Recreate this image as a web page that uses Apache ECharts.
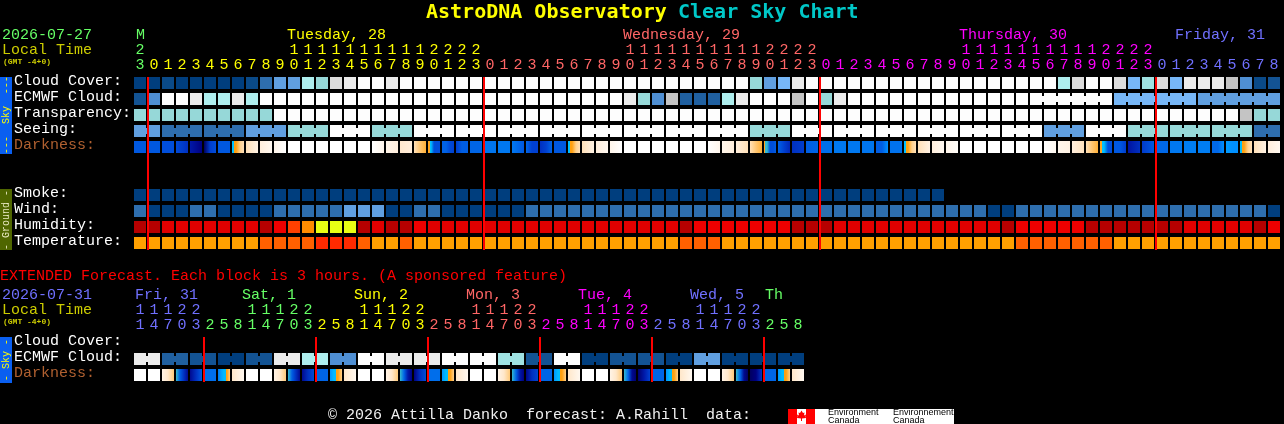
<!DOCTYPE html>
<html><head><meta charset="utf-8">
<style>html,body{margin:0;padding:0;background:#000;overflow:hidden}#c{width:1284px;height:424px}</style>
<script src="https://cdn.jsdelivr.net/npm/echarts@6/dist/echarts.min.js"></script>
</head><body><div id="c"></div>
<script>
// ---------- values ----------
const hoursMain=[23,0,1,2,3,4,5,6,7,8,9,10,11,12,13,14,15,16,17,18,19,20,21,22,23,0,1,2,3,4,5,6,7,8,9,10,11,12,13,14,15,16,17,18,19,20,21,22,23,0,1,2,3,4,5,6,7,8,9,10,11,12,13,14,15,16,17,18,19,20,21,22,23,0,1,2,3,4,5,6,7,8];
const hoursExt=[11,14,17,20,23,2,5,8,11,14,17,20,23,2,5,8,11,14,17,20,23,2,5,8,11,14,17,20,23,2,5,8,11,14,17,20,23,2,5,8,11,14,17,20,23,2,5,8];
const dayLabelsMain=[[0,'M'],[11,'Tuesday, 28'],[35,'Wednesday, 29'],[59,'Thursday, 30'],[74,'Friday, 31']];
const dayLabelsExt=[[0,'Fri, 31'],[8,'Sat, 1'],[16,'Sun, 2'],[24,'Mon, 3'],[32,'Tue, 4'],[40,'Wed, 5'],[45,'Th']];
const rowNamesMain=['Cloud Cover:','ECMWF Cloud:','Transparency:','Seeing:','Darkness:','','','Smoke:','Wind:','Humidity:','Temperature:'];
const rowNamesExt=['Cloud Cover:','ECMWF Cloud:','Darkness:'];

const cloudCover=[100,100,95,100,100,100,100,100,95,80,60,60,30,40,15,10,0,0,10,0,
0,0,0,0,0,0,0,0,0,0,0,0,0,0,0,0,0,0,0,0,0,0,0,0,40,60,50,10,0,0,
0,0,0,0,0,0,0,0,0,0,0,0,0,0,0,0,30,15,0,0,15,50,35,15,50,10,10,10,20,70,95,90];
const ecmwfCloud=[90,70,0,0,10,30,30,10,30,0,0,0,0,0,0,0,0,0,0,0,
0,0,0,0,0,0,0,0,0,0,0,0,0,0,0,10,40,70,20,85,85,85,30,10,0,0,0,20,0,40,
10,0,0,0,0,0,0,0,0,0,0,0,0,0,0,0,0,0,0,0,50,50,50,50,50,50,60,60,60,60,60,60];
const ecmwfBlocks=[1,1,1,1,1,1,1,1,1,1,1,1,1,1,1,1,1,1,1,1,1,1,1,1,1,1,1,1,1,1,1,1,1,1,1,1,1,1,1,1,1,1,1,1,1,1,1,1,1,1,1,1,1,1,1,1,1,1,1,1,1,1,1,1,6,6,6];
const transparency=[40,40,40,40,40,40,40,40,40,40,0,0,0,0,0,0,0,0,0,0,
0,0,0,0,0,0,0,0,0,0,0,0,0,0,0,0,0,0,0,0,0,0,0,0,0,0,0,0,0,0,
0,0,0,0,0,0,0,0,0,0,0,0,0,0,0,0,0,0,0,0,0,0,0,0,0,0,0,0,0,20,40,40];
const seeing=[60,60,80,80,80,80,80,80,60,60,60,40,40,40,0,0,0,40,40,40,
0,0,0,0,0,0,0,0,0,0,0,0,0,0,0,0,0,0,0,0,0,0,0,0,40,40,40,0,0,0,
0,0,0,0,0,0,0,0,0,0,0,0,0,0,0,60,60,60,0,0,0,40,40,40,40,40,40,40,40,40,80,80];
const seeingBlocks=[2,3,3,3,3,3,3,3,3,3,3,3,3,3,3,3,3,3,3,3,3,3,3,3,3,3,3,2];
const smoke=[100,100,100,100,100,100,100,100,100,100,100,100,100,100,100,100,100,100,100,100,100,100,100,100,100,100,100,100,100,100,100,100,100,100,100,100,100,100,100,100,100,100,100,100,100,100,100,100,100,100,100,100,100,100,100,100,100,100];
const wind=[80,100,100,100,80,80,100,100,100,100,80,80,80,80,80,60,60,60,100,100,80,80,100,100,100,100,100,100,80,80,
80,80,80,80,80,80,80,80,80,80,80,80,80,80,80,80,80,80,80,80,80,80,80,80,80,80,80,80,80,80,80,100,100,
80,80,80,80,80,80,80,80,80,80,80,80,80,80,80,80,80,80,100];
const humidity=[95,95,90,90,90,90,90,90,90,95,85,70,60,50,50,50,95,90,95,95,85,90,90,90,90,90,90,90,90,90,
90,90,90,90,90,90,90,90,90,95,85,85,85,85,85,85,85,95,95,95,90,90,90,90,90,90,90,90,90,90,90,90,95,
85,85,85,85,85,95,95,95,95,95,95,95,90,90,90,90,90,95,85];
const temperature=[24,24,24,24,24,24,24,24,24,28,28,28,28,32,32,32,28,24,24,28,24,24,24,24,24,24,24,24,24,24,
24,24,24,24,24,24,24,24,24,28,28,28,24,24,24,24,24,24,24,24,24,24,24,24,24,24,24,24,24,24,24,24,24,
28,28,28,28,28,28,28,24,24,24,24,24,24,24,24,24,24,24,24];
// limiting magnitude sampled across each column
const darkness=[[4],[4],[4.2],[4.3,5],[5.5,6],[6.5,4.6,4.2],[4],[1.5,1,-0.5,-1],[-1,-2.4],[-2,-3],[-2.7,-4],[-4],[-4],[-4],[-4],[-4],[-4],[-4,-2.7],[-2.6,-2],[-1.6,-2],[-1,-0.2,0.5],[0.8,1.5,4.2,4.2,4.2],
[3.7,3.7,4.3,4.5],[4.6,3.8,3.8],[3.6],[3.1],[3],[3,4],[3.5,4.5,4.5],[5,4.5,3.6],[4],[1.5,1,-0.5,-1],[-1,-2.4],[-2,-3],[-2.7,-4],[-4],[-4],[-4],[-4],[-4],[-4],[-4,-2.8],[-2.7,-2],[-2,-1],[-1,-0.2,0.5],[0.8,1.4,4.2,4.2,3.8],
[3.7,4.5,5.2],[5,4.6],[3.8,3.6],[3.3],[3],[3],[3.1],[3.8,3.8,2.5],[3.2],[1.5,1,-0.5,-1],[-1,-2.4],[-2,-3],[-2.7,-3.5],[-4],[-4],[-4],[-4],[-4],[-4],[-4,-3],[-2.8,-2.4],[-2,-1.2],[-1,-0.2,0.5],[0.8,1.5,4.2,4.2],
[4,4,4.6],[5.6,5],[4.7,4],[3.5],[3],[2.9],[2.9],[3.5,3.5,2.5],[2.2,2.5,2.5],[1.5,1,-0.5,-1],[-1,-2.4],[-2,-3]];
const ecmwfExt=[10,10,85,85,90,90,100,100,90,90,10,10,30,30,70,70,0,0,10,10,10,10,0,0,0,0,35,35,90,90,0,0,100,100,90,90,90,90,100,100,60,60,100,100,100,100,100,100];
const ecmwfExtBlocks=[2,2,2,2,2,2,2,2,2,2,2,2,2,2,2,2,2,2,2,2,2,2,2,2];
const darknessExt=[[-4],[-4],[-2.5,-1.5,-0.3],[1.4,3.8,5,5.8],[5.8,5,3.9],[3.3],[3,2.2,1.6,1,-0.5],[-1.5,-3],[-4],[-4],[-2.5,-1.5,-0.3],[1.4,3.8,5,5.8],[5.8,5,4.3],[3.6],[2.4,1.6,1,-0.5],[-1.5,-3],[-4],[-4],[-2.5,-1.5,-0.3],[1.4,3.6,5.5,6],
[6,5,4.2],[3.3],[2.4,1.6,1,-0.5],[-1.5,-3],[-4],[-4],[-2.5,-1.5,-0.3],[1.4,3.6,5.5,6],[5.9,5,4.4],[3.6],[2.4,1.6,1,-0.5],[-1.5,-3],[-4],[-4],[-2.5,-1.5,-0.3],[1.4,3.4,5.8,6.3],[6.3,5.5,4.5],[3.6],[2.4,1.6,1,-0.5],[-1.5,-3],[-4],[-4],[-2.5,-1.5,-0.3],[1.4,3.4,5.8,6.5],[6.5,6,4.8],[3.6],[2.4,1.6,1,-0.5],[-1.5,-3]];

// ---------- colour scales ----------
const skyScale={0:'#fdfdfd',10:'#ebebeb',15:'#dcdcdc',20:'#c4c4c4',30:'#aeeeee',35:'#9fe2e2',40:'#96d8d8',50:'#77b7f7',60:'#609fe0',70:'#4f8fd3',80:'#2e6eae',85:'#2060a0',90:'#135393',95:'#0a4a88',100:'#003e7e'};
const humidityScale={95:'#b60000',90:'#e00000',85:'#ee0000',70:'#ff4000',60:'#ff8c00',50:'#e8ff14'};
const temperatureScale={24:'#ffa000',28:'#ff6000',32:'#ff2a00'};
const darkStops=[[-4,'#ffffff'],[-3,'#fff8f0'],[-2,'#ffeedc'],[-1,'#ffe0b8'],[0,'#ffc060'],[1,'#ffa010'],[1.5,'#00c0ff'],[2.5,'#0090ff'],[3,'#0078f0'],[3.5,'#0068e8'],[4,'#0058e0'],[4.5,'#0040d0'],[5,'#0030c0'],[5.5,'#0018a8'],[6,'#000080'],[6.5,'#000060']];
const dayColorsMain=['#66ff66','#ffff00','#ff6666','#ff00ff','#7070ff'];
const dayColorsExt=['#7070ff','#66ff66','#ffff00','#ff6666','#ff00ff','#7070ff','#66ff66'];
const FONT='"Liberation Mono"';
const TXT='15px '+FONT;

// ---------- helpers ----------
function hex(c){return [1,3,5].map(i=>parseInt(c.substr(i,2),16));}
function darkColor(m){
  for(let i=0;i<darkStops.length-1;i++){
    const a=darkStops[i],b=darkStops[i+1];
    if(m<=b[0]){const t=Math.max(0,(m-a[0])/(b[0]-a[0]));const A=hex(a[1]),B=hex(b[1]);
      return 'rgb('+A.map((v,j)=>Math.round(v+(B[j]-v)*t)).join(',')+')';}
  }
  return darkStops[darkStops.length-1][1];
}
function darkFill(samples){
  if(samples.length===1)return darkColor(samples[0]);
  const n=samples.length-1,stops=[];
  samples.forEach((m,i)=>{
    stops.push({offset:i/n,color:darkColor(m)});
    if(i<n&&(m<=1)!==(samples[i+1]<=1)){
      const mid=(i+.5)/n;
      stops.push({offset:mid,color:darkColor(m)});
      stops.push({offset:mid,color:darkColor(samples[i+1])});
    }
  });
  return new echarts.graphic.LinearGradient(0,0,1,0,stops);
}
function dayIndex(hours){let d=0;return hours.map((h,i)=>{if(i&&h<hours[i-1])d++;return d;});}
function wrapCols(hours){const r=[];hours.forEach((h,i)=>{if(i&&h<hours[i-1])r.push(i);});return r;}
function linkFlags(blocks,len){const f=new Array(len).fill(false);let p=0;(blocks||[]).forEach(b=>{for(let i=0;i<b-1;i++)f[p+i]=true;p+=b;});return f;}

function cellSeries(gridIdx,rows){
  const cells=[];
  rows.forEach(r=>{
    const link=linkFlags(r.blocks,r.values.length);
    r.values.forEach((v,col)=>cells.push({col,row:r.row,
      fill:r.scale?r.scale[v]:darkFill(v),link:link[col]}));
  });
  return {type:'custom',xAxisIndex:gridIdx*2,yAxisIndex:gridIdx,silent:true,z:2,clip:false,
    data:cells.map(c=>[c.col,c.row]),
    renderItem(params,api){
      const c=cells[params.dataIndex],p=api.coord([c.col,c.row]);
      const ch=[{type:'rect',shape:{x:p[0]-7+1,y:p[1]-6,width:12,height:12},style:{fill:c.fill}}];
      if(c.link)ch.push({type:'rect',shape:{x:p[0]+6,y:p[1]-3,width:2,height:6},style:{fill:c.fill}});
      return {type:'group',children:ch};
    }};
}
function redSeries(gridIdx,cols,rowFirst,rowLast){
  return {type:'custom',xAxisIndex:gridIdx*2,yAxisIndex:gridIdx,silent:true,z:10,zlevel:0,clip:false,
    data:cols.map(c=>[c,rowFirst]),
    renderItem(params,api){
      const p=api.coord([cols[params.dataIndex],rowFirst]),q=api.coord([cols[params.dataIndex],rowLast]);
      return {type:'rect',z2:100,shape:{x:p[0]-7,y:p[1]-6,width:2,height:q[1]-p[1]+13},style:{fill:'#ff0000',stroke:null}};
    }};
}
function dayNameSeries(gridIdx,labels,colors,hours,nudges){
  const days=dayIndex(hours);
  return {type:'custom',xAxisIndex:gridIdx*2,yAxisIndex:gridIdx,silent:true,z:3,clip:false,
    data:labels.map(l=>[l[0],0]),
    renderItem(params,api){
      const l=labels[params.dataIndex],p=api.coord([l[0],0]);
      return {type:'text',x:p[0]-7+nudges[params.dataIndex],y:p[1]-48,
        style:{text:l[1],fill:colors[days[l[0]]],font:TXT,align:'left',verticalAlign:'middle'}};
    }};
}
function hourAxes(gridIdx,hours,colors){
  const days=dayIndex(hours);
  const base={gridIndex:gridIdx,type:'category',position:'top',axisLine:{show:false},axisTick:{show:false},splitLine:{show:false}};
  return [
    Object.assign({},base,{data:hours.map(h=>String(h%10)),offset:0,
      axisLabel:{interval:0,margin:2,fontFamily:FONT,fontSize:15,lineHeight:15,verticalAlign:'bottom',color:(v,i)=>colors[days[i]]}}),
    Object.assign({},base,{data:hours.map(h=>h>=10?String(Math.floor(h/10)):''),offset:15,
      axisLabel:{interval:0,margin:2,fontFamily:FONT,fontSize:15,lineHeight:15,verticalAlign:'bottom',color:(v,i)=>colors[days[i]]}})
  ];
}
function rowAxis(gridIdx,names){
  return {gridIndex:gridIdx,type:'category',inverse:true,data:names,axisLine:{show:false},axisTick:{show:false},splitLine:{show:false},
    axisLabel:{interval:0,margin:119,align:'left',fontFamily:FONT,fontSize:15,verticalAlign:'bottom',lineHeight:3,
      color:v=>v==='Darkness:'?'#b06030':'#ffffff'}};
}
function txt(x,y,text,fill,font,extra){
  return Object.assign({type:'text',x,y,silent:true,style:{text,fill,font:font||TXT,align:'left',verticalAlign:'middle'}},extra||{});
}
function rect(x,y,w,h,fill){return {type:'rect',silent:true,shape:{x,y,width:w,height:h},style:{fill}};}
function vtxt(x,y,text,fill){
  return {type:'text',x,y,rotation:Math.PI/2,silent:true,style:{text,fill,font:'10px '+FONT,align:'center',verticalAlign:'middle'}};
}

const graphics=[
  txt(426,13,'AstroDNA Observatory','#ffff00','bold 20px "DejaVu Sans Mono"'),
  txt(678,13,'Clear Sky Chart','#00c8c8','bold 20px "DejaVu Sans Mono"'),
  txt(2,35,'2026-07-27','#66ff66'),
  txt(2,50,'Local Time','#cccc00'),
  txt(3,62,'(GMT -4+0)','#cccc00','bold 8px '+FONT),
  rect(0,77,12,77,'#0a5ff0'),
  vtxt(6,115,'---  Sky  ---','#ffff00'),
  rect(0,189,12,61,'#4f6600'),
  vtxt(6,220,'- Ground -','#e8e8c0'),
  txt(0,276,'EXTENDED Forecast. Each block is 3 hours. (A sponsored feature)','#ff0000'),
  txt(2,295,'2026-07-31','#7070ff'),
  txt(2,310,'Local Time','#cccc00'),
  txt(3,322,'(GMT -4+0)','#cccc00','bold 8px '+FONT),
  rect(0,337,12,46,'#0a5ff0'),
  vtxt(6,360,'- Sky -','#ffff00'),
  txt(328,415,'\u00a9 2026 Attilla Danko  forecast: A.Rahill  data:','#f0f0f0'),
  rect(788,409,9,15,'#ff0000'),
  rect(797,409,9,15,'#ffffff'),
  rect(806,409,9,15,'#ff0000'),
  rect(815,409,139,15,'#ffffff'),
  {type:'polygon',silent:true,shape:{points:[[801.5,410.5],[803,413],[804.5,412.5],[804,415.5],[806,414.5],[805.7,416.5],[806,418],[802,418.5],[802,421],[801,421],[801,418.5],[797,418],[797.3,416.5],[797,414.5],[799,415.5],[798.5,412.5],[800,413]]},style:{fill:'#ff0000'}},
  txt(828,413,'Environment','#000000','9px "Liberation Sans"'),
  txt(828,420.5,'Canada','#000000','9px "Liberation Sans"'),
  txt(893,413,'Environnement','#000000','9px "Liberation Sans"'),
  txt(893,420.5,'Canada','#000000','9px "Liberation Sans"')
];

const chart=echarts.init(document.getElementById('c'),null,{renderer:'canvas'});
chart.setOption({
  animation:false,backgroundColor:'#000000',
  grid:[{left:133,top:75,width:1148,height:176},{left:133,top:335,width:672,height:48}],
  xAxis:[...hourAxes(0,hoursMain,dayColorsMain),...hourAxes(1,hoursExt,dayColorsExt)],
  yAxis:[rowAxis(0,rowNamesMain),rowAxis(1,rowNamesExt)],
  graphic:{elements:graphics},
  series:[
    cellSeries(0,[
      {row:0,values:cloudCover,scale:skyScale},
      {row:1,values:ecmwfCloud,scale:skyScale,blocks:ecmwfBlocks},
      {row:2,values:transparency,scale:skyScale},
      {row:3,values:seeing,scale:skyScale,blocks:seeingBlocks},
      {row:4,values:darkness},
      {row:7,values:smoke,scale:skyScale},
      {row:8,values:wind,scale:skyScale},
      {row:9,values:humidity,scale:humidityScale},
      {row:10,values:temperature,scale:temperatureScale}
    ]),
    cellSeries(1,[
      {row:1,values:ecmwfExt,scale:skyScale,blocks:ecmwfExtBlocks},
      {row:2,values:darknessExt}
    ]),
    dayNameSeries(0,dayLabelsMain,dayColorsMain,hoursMain,[3,0,0,0,6]),
    dayNameSeries(1,dayLabelsExt,dayColorsExt,hoursExt,[2,-3,-3,-3,-3,-3,2]),
    redSeries(0,wrapCols(hoursMain),0,10),
    redSeries(1,wrapCols(hoursExt),0,2)
  ]
});
</script></body></html>
